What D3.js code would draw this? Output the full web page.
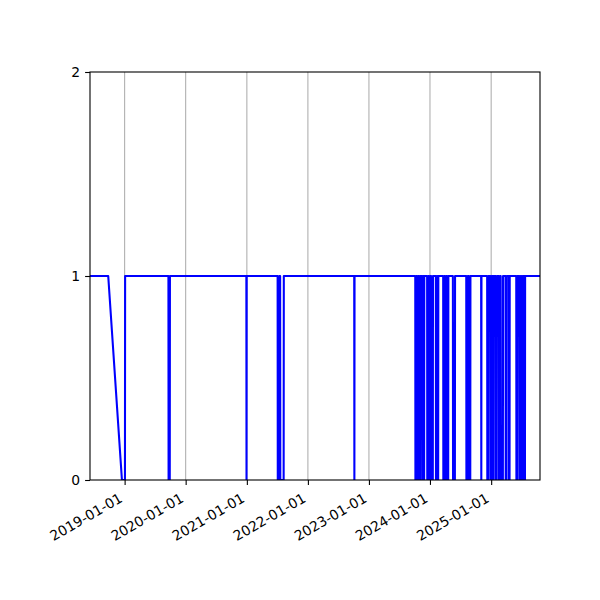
<!DOCTYPE html>
<html>
<head>
<meta charset="utf-8">
<script src="https://cdn.jsdelivr.net/npm/d3@7"></script>
<style>
  body { margin: 0; background: #fff; }
  text { font-family: "DejaVu Sans", sans-serif; font-size: 13.9px; fill: #000; }
</style>
</head>
<body>
<script>
// observations (date, 0/1 value)
var dates = [
  "2018-06-08", "2018-09-25", "2018-12-16", "2019-01-03", "2019-01-04",
  "2019-09-20", "2019-09-21", "2019-09-28", "2019-09-29",
  "2020-12-29", "2020-12-30", "2020-12-31",
  "2021-07-04", "2021-07-05", "2021-07-13", "2021-07-14", "2021-07-19", "2021-07-20", "2021-08-09", "2021-08-10",
  "2022-10-05", "2022-10-06", "2022-10-07",
  "2023-10-05", "2023-10-06", "2023-10-11", "2023-10-12", "2023-10-17", "2023-10-18", "2023-10-23", "2023-10-24",
  "2023-10-29", "2023-10-30", "2023-11-04", "2023-11-05", "2023-11-16", "2023-11-17", "2023-11-21", "2023-11-22",
  "2023-11-24", "2023-11-25", "2023-11-27", "2023-11-28",
  "2023-12-15", "2023-12-16", "2023-12-21", "2023-12-22", "2023-12-27", "2023-12-28", "2024-01-02", "2024-01-03",
  "2024-01-08", "2024-01-09", "2024-01-18", "2024-01-19",
  "2024-02-05", "2024-02-06", "2024-02-10", "2024-02-11", "2024-02-14", "2024-02-15", "2024-02-19", "2024-02-20",
  "2024-03-20", "2024-03-21", "2024-03-26", "2024-03-27", "2024-04-01", "2024-04-02", "2024-04-07", "2024-04-08",
  "2024-04-13", "2024-04-14", "2024-04-19", "2024-04-20",
  "2024-05-17", "2024-05-18", "2024-05-29", "2024-05-30",
  "2024-08-05", "2024-08-06", "2024-08-13", "2024-08-14", "2024-08-21", "2024-08-22", "2024-08-29", "2024-08-30",
  "2024-11-02", "2024-11-03", "2024-11-04",
  "2024-12-08", "2024-12-09", "2024-12-15", "2024-12-16", "2024-12-28", "2024-12-29", "2025-01-03", "2025-01-04",
  "2025-01-09", "2025-01-10", "2025-01-14", "2025-01-15", "2025-01-27", "2025-01-28", "2025-02-03", "2025-02-04",
  "2025-02-16", "2025-02-17", "2025-02-22", "2025-02-23", "2025-02-27", "2025-02-28", "2025-03-12", "2025-03-13",
  "2025-03-28", "2025-03-29", "2025-04-03", "2025-04-04", "2025-04-17", "2025-04-18", "2025-04-21", "2025-04-22",
  "2025-05-31", "2025-06-01", "2025-06-06", "2025-06-07", "2025-06-19", "2025-06-20", "2025-06-25", "2025-06-26",
  "2025-07-01", "2025-07-02", "2025-07-07", "2025-07-08", "2025-07-13", "2025-07-14", "2025-07-17", "2025-07-18",
  "2025-07-19", "2025-07-20", "2025-07-22", "2025-07-23",
  "2025-10-20"
];
var values = [
  1, 1, 0, 0, 1,
  1, 0, 0, 1,
  1, 0, 1,
  1, 0, 0, 1, 1, 0, 0, 1,
  1, 0, 1,
  1, 0, 0, 1, 1, 0, 0, 1,
  1, 0, 0, 1, 1, 0, 0, 1,
  1, 0, 0, 1,
  1, 0, 0, 1, 1, 0, 0, 1,
  1, 0, 0, 1,
  1, 0, 0, 1, 1, 0, 0, 1,
  1, 0, 0, 1, 1, 0, 0, 1,
  1, 0, 0, 1,
  1, 0, 0, 1,
  1, 0, 0, 1, 1, 0, 0, 1,
  1, 0, 1,
  1, 0, 0, 1, 1, 0, 0, 1,
  1, 0, 0, 1, 1, 0, 0, 1,
  1, 0, 0, 1, 1, 0, 0, 1,
  1, 0, 0, 1, 1, 0, 0, 1,
  1, 0, 0, 1, 1, 0, 0, 1,
  1, 0, 0, 1, 1, 0, 0, 1,
  1, 0, 0, 1,
  1
];
var xStart = "2018-06-08", xEnd = "2025-10-20";
var xTicks = ["2019-01-01", "2020-01-01", "2021-01-01", "2022-01-01", "2023-01-01", "2024-01-01", "2025-01-01"];
var yTicks = [0, 1, 2];

var margin = {top: 72, right: 60, bottom: 120, left: 90},
  width = 600 - margin.left - margin.right,
  height = 600 - margin.top - margin.bottom;

var parse = d3.timeParse("%Y-%m-%d");
var data = dates.map(function(d, i) { return {date: parse(d), value: values[i]}; });

var svg = d3.select("body").append("svg")
  .attr("width", 600)
  .attr("height", 600)
  .append("g")
  .attr("transform", "translate(" + margin.left + "," + margin.top + ")");

var x = d3.scaleTime().range([0, width]).domain([parse(xStart), parse(xEnd)]);
var y = d3.scaleLinear().range([height, 0]).domain([0, 2]);

// vertical grid at the yearly ticks
svg.selectAll(".grid")
  .data(xTicks)
  .enter().append("line")
  .attr("class", "grid")
  .attr("x1", function(d) { return x(parse(d)); })
  .attr("x2", function(d) { return x(parse(d)); })
  .attr("y1", 0)
  .attr("y2", height)
  .attr("stroke", "#b0b0b0")
  .attr("stroke-width", 1.1);

svg.append("clipPath").attr("id", "clip")
  .append("rect").attr("width", width).attr("height", height);

var lineFun = d3.line()
  .x(function(d) { return x(d.date); })
  .y(function(d) { return y(d.value); });

svg.append("path")
  .datum(data)
  .attr("d", lineFun)
  .attr("clip-path", "url(#clip)")
  .attr("fill", "none")
  .attr("stroke", "#0000ff")
  .attr("stroke-width", 2.08)
  .attr("stroke-linejoin", "round");

// frame
svg.append("rect")
  .attr("width", width)
  .attr("height", height)
  .attr("fill", "none")
  .attr("stroke", "#000")
  .attr("stroke-width", 1.1);

// x axis
var xAxis = svg.append("g")
  .attr("class", "x axis")
  .attr("transform", "translate(0," + height + ")")
  .call(d3.axisBottom(x)
    .tickValues(xTicks.map(parse))
    .tickSize(4.9)
    .tickFormat(d3.timeFormat("%Y-%m-%d")));
xAxis.select(".domain").remove();
xAxis.selectAll(".tick line").attr("stroke", "#000").attr("stroke-width", 1.1);
xAxis.selectAll(".tick text")
  .attr("y", 0)
  .attr("dy", 0)
  .attr("text-anchor", "end")
  .attr("transform", "translate(-1.6,21) rotate(-30)");

// y axis
var yAxis = svg.append("g")
  .attr("class", "y axis")
  .call(d3.axisLeft(y)
    .tickValues(yTicks)
    .tickSize(4.9)
    .tickPadding(4.9)
    .tickFormat(d3.format("d")));
yAxis.select(".domain").remove();
yAxis.selectAll(".tick line").attr("stroke", "#000").attr("stroke-width", 1.1);
yAxis.selectAll(".tick text").attr("dy", "0.35em");

svg.selectAll(".axis text").style("font-family", "DejaVu Sans").style("font-size", "13.9px");
</script>
</body>
</html>
